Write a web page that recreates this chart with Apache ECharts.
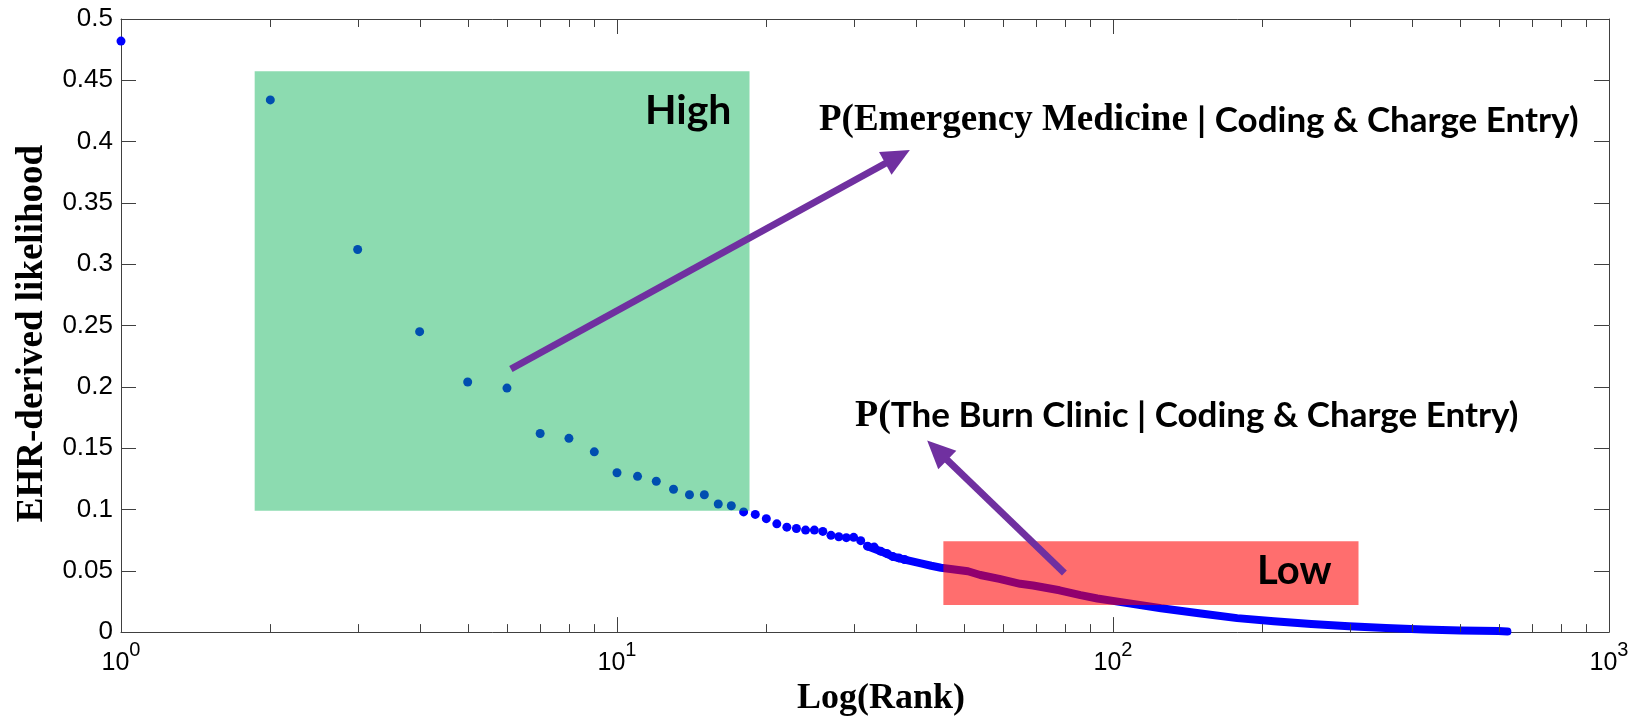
<!DOCTYPE html>
<html><head><meta charset="utf-8">
<script src="https://cdn.jsdelivr.net/npm/echarts@6/dist/echarts.min.js"></script>
<style>html,body{margin:0;padding:0;background:#fff}#c{width:1636px;height:722px}</style>
</head><body><div id="c"></div>
<script>
// ---- data ----
const ranks = [1,2,3,4,5,6,7,8,9,10,11,12,13,14,15,16,17,18,19,20,21,22,23,24,25,26,27,28,29,30,31,32,33,34,35,36,37,38];
const likelihood = [0.482,0.434,0.312,0.245,0.204,0.199,0.162,0.158,0.147,0.130,0.127,0.123,0.1165,0.112,0.112,0.1045,0.103,0.098,0.096,0.0925,0.0883,0.0856,0.0845,0.0832,0.0832,0.0821,0.0789,0.0778,0.077,0.0773,0.0746,0.0701,0.0693,0.066,0.0642,0.0616,0.0605,0.0592];
// dense tail (markers merge into a continuous band)
const bandRanks = [32,34,36,38,41,43,45,51,54,59,65,69,78,86,93,100,125,149,178,211,251,299,355,423,502,598,624];
const bandValues = [0.0701,0.066,0.0616,0.0592,0.056,0.0541,0.0525,0.0496,0.0466,0.0434,0.0394,0.038,0.0341,0.0301,0.0274,0.0255,0.0194,0.0154,0.0114,0.0088,0.0066,0.0048,0.0034,0.0021,0.0013,0.0008,0.0005];
const xMinorTicks = [2,3,4,5,6,7,8,9,20,30,40,50,60,70,80,90,200,300,400,500,600,700,800,900];
// highlighted regions: [rankFrom, likelihoodFrom, rankTo, likelihoodTo]
const highRegion = [1.86, 0.0989, 18.5, 0.4574];
const lowRegion = [45.5, 0.0221, 312.6, 0.0741];
// arrows: [rankStart, likelihoodStart, rankTip, likelihoodTip]
const arrowEmergency = [6.11, 0.2146, 38.94, 0.3932];
const arrowBurn = [79.8, 0.0482, 42.2, 0.1562];

const axisColor = '#404040';
const regionColors = ['rgba(0,176,80,0.45)', 'rgba(255,0,0,0.57)'];
const arrowColor = '#7030a0';

const chart = echarts.init(document.getElementById('c'), null, {renderer: 'canvas'});
const tickStyle = {show: true, inside: true, length: 15, lineStyle: {color: axisColor, width: 1}};
const lineStyleAxis = {show: true, onZero: false, lineStyle: {color: axisColor, width: 1}};

chart.setOption({
  animation: false,
  backgroundColor: '#fff',
  grid: {left: 121, right: 27, top: 19, bottom: 78, containLabel: false},
  xAxis: [{
    type: 'log', logBase: 10, min: 1, max: 1000,
    axisLine: lineStyleAxis, axisTick: tickStyle, splitLine: {show: false},
    axisLabel: {
      margin: 8,
      formatter: v => '{b|10}{s|' + Math.round(Math.log10(v)) + '}',
      rich: {
        b: {fontFamily: 'Liberation Sans', fontSize: 25, color: '#000', verticalAlign: 'bottom'},
        s: {fontFamily: 'Liberation Sans', fontSize: 20, color: '#000', verticalAlign: 'top', padding: [0, 0, 16, 0]}
      }
    },
    name: 'Log(Rank)', nameLocation: 'middle', nameGap: 37,
    nameTextStyle: {fontFamily: 'Liberation Serif', fontWeight: 'bold', fontSize: 36, color: '#000', padding: [0, 0, 0, 32]}
  }, {
    type: 'log', logBase: 10, min: 1, max: 1000, position: 'top',
    axisLine: lineStyleAxis, axisTick: tickStyle, splitLine: {show: false}, axisLabel: {show: false}
  }],
  yAxis: [{
    type: 'value', min: 0, max: 0.5, interval: 0.05,
    axisLine: lineStyleAxis, axisTick: tickStyle, splitLine: {show: false},
    axisLabel: {margin: 8, fontFamily: 'Liberation Sans', fontSize: 26, color: '#000', formatter: v => String(+v.toFixed(2))},
    name: 'EHR-derived likelihood', nameLocation: 'middle', nameGap: 70,
    nameTextStyle: {fontFamily: 'Liberation Serif', fontWeight: 'bold', fontSize: 37, color: '#000', padding: [0, 16, 0, 0]}
  }, {
    type: 'value', min: 0, max: 0.5, interval: 0.05, position: 'right',
    axisLine: lineStyleAxis, axisTick: tickStyle, splitLine: {show: false}, axisLabel: {show: false}
  }],
  series: [
    {
      type: 'line', name: 'band', data: bandRanks.map((r, i) => [r, bandValues[i]]),
      symbol: 'none', showSymbol: false, z: 2, silent: true,
      lineStyle: {color: '#0000ff', width: 8, cap: 'round', join: 'round'}
    },
    {
      type: 'scatter', name: 'likelihood', data: ranks.map((r, i) => [r, likelihood[i]]),
      symbol: 'circle', symbolSize: 9, z: 2, silent: true,
      itemStyle: {color: '#0000ff', opacity: 1}
    },
    {
      type: 'custom', name: 'regions', z: 3, silent: true, clip: false,
      data: [highRegion, lowRegion], encode: {x: [0, 2], y: [1, 3]},
      renderItem: (params, api) => {
        const a = api.coord([api.value(0), api.value(3)]);
        const b = api.coord([api.value(2), api.value(1)]);
        return {type: 'rect', shape: {x: a[0], y: a[1], width: b[0] - a[0], height: b[1] - a[1]},
          style: {fill: regionColors[params.dataIndex]}};
      }
    },
    {
      type: 'custom', name: 'arrows', z: 4, silent: true, clip: false,
      data: [arrowEmergency, arrowBurn], encode: {x: [0, 2], y: [1, 3]},
      renderItem: (params, api) => {
        const s = api.coord([api.value(0), api.value(1)]);
        const e = api.coord([api.value(2), api.value(3)]);
        const dx = e[0] - s[0], dy = e[1] - s[1], L = Math.hypot(dx, dy);
        const ux = dx / L, uy = dy / L, nx = -uy, ny = ux;
        const hl = 28, hw = 13;
        const bx = e[0] - ux * hl, by = e[1] - uy * hl;
        return {type: 'group', children: [
          {type: 'line', shape: {x1: s[0], y1: s[1], x2: bx + ux * 3, y2: by + uy * 3},
           style: {stroke: arrowColor, lineWidth: 7, lineCap: 'butt'}},
          {type: 'polygon', shape: {points: [[e[0], e[1]], [bx + nx * hw, by + ny * hw], [bx - nx * hw, by - ny * hw]]},
           style: {fill: arrowColor}}
        ]};
      }
    },
    {
      type: 'custom', name: 'minorTicks', z: 6, silent: true, clip: false,
      data: xMinorTicks.map(v => [v, 0]),
      renderItem: (params, api) => {
        const b = api.coord([api.value(0), 0]);
        const t = api.coord([api.value(0), 0.5]);
        const x = Math.round(b[0]) + 0.5;
        return {type: 'group', children: [
          {type: 'line', shape: {x1: x, y1: b[1], x2: x, y2: b[1] - 8}, style: {stroke: axisColor, lineWidth: 1}},
          {type: 'line', shape: {x1: x, y1: t[1], x2: x, y2: t[1] + 8}, style: {stroke: axisColor, lineWidth: 1}}
        ]};
      }
    }
  ],
  graphic: [
    {type: 'text', x: 645, y: 111, z: 100, silent: true,
     style: {text: 'High', fontFamily: 'Lato', fontWeight: 'bold', fontSize: 41, fill: '#000', verticalAlign: 'middle', align: 'left'}},
    {type: 'text', x: 1257, y: 571, z: 100, silent: true,
     style: {text: 'Low', fontFamily: 'Lato', fontWeight: 'bold', fontSize: 40, fill: '#000', verticalAlign: 'middle', align: 'left'}},
    {type: 'text', x: 819, y: 120.5, z: 100, silent: true,
     style: {text: '{t|P(Emergency Medicine }{c|| Coding & Charge Entry)}', verticalAlign: 'middle', align: 'left',
       rich: {t: {fontFamily: 'Liberation Serif', fontWeight: 'bold', fontSize: 37, fill: '#000'},
              c: {fontFamily: 'Lato', fontWeight: 'bold', fontSize: 35, fill: '#000'}}}},
    {type: 'text', x: 855, y: 416, z: 100, silent: true,
     style: {text: '{t|P(}{c|The Burn Clinic | Coding & Charge Entry)}', verticalAlign: 'middle', align: 'left',
       rich: {t: {fontFamily: 'Liberation Serif', fontWeight: 'bold', fontSize: 38, fill: '#000'},
              c: {fontFamily: 'Lato', fontWeight: 'bold', fontSize: 35, fill: '#000'}}}}
  ]
});
</script></body></html>
